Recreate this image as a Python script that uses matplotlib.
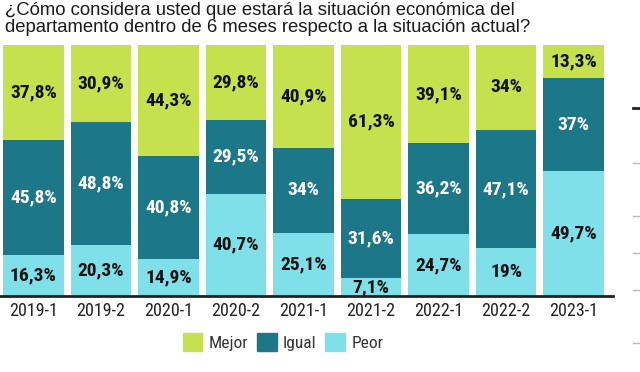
import numpy as np
import matplotlib
matplotlib.use("Agg")
import matplotlib.pyplot as plt
from matplotlib.patches import Patch

# data
periods = ["2019-1", "2019-2", "2020-1", "2020-2", "2021-1",
           "2021-2", "2022-1", "2022-2", "2023-1"]
peor = [16.3, 20.3, 14.9, 40.7, 25.1, 7.1, 24.7, 19, 49.7]
igual = [45.8, 48.8, 40.8, 29.5, 34, 31.6, 36.2, 47.1, 37]
mejor = [37.8, 30.9, 44.3, 29.8, 40.9, 61.3, 39.1, 34, 13.3]

series = [("Peor", peor, "#7fe0ea", "#111111"),
          ("Igual", igual, "#1c7888", "white"),
          ("Mejor", mejor, "#c6e04e", "#111111")]

narrow = "Roboto Condensed"

fig = plt.figure(figsize=(6.4, 3.72), dpi=100)
ax = fig.add_axes([0.0, 0.2043, 0.958, 0.675])

x = np.arange(len(periods))
bottom = np.zeros(len(periods))
for name, vals, color, txt in series:
    vals = np.array(vals, dtype=float)
    bars = ax.bar(x, vals, width=0.9, bottom=bottom, color=color, label=name)
    labels = [f"{v:g}".replace(".", ",") + "%" for v in vals]
    ax.bar_label(bars, labels=labels, label_type="center", color=txt,
                 fontsize=14, fontweight=900, family=narrow)
    bottom += vals

ax.set_xlim(-0.494, 8.585)
ax.set_ylim(0, 100)
ax.set_yticks([])
ax.set_xticks(x)
ax.set_xticklabels(periods, family=narrow, fontsize=13, color="#222222")
ax.tick_params(axis="x", length=0, pad=4)
for s in ["top", "right", "left"]:
    ax.spines[s].set_visible(False)
ax.spines["bottom"].set_linewidth(2)
ax.spines["bottom"].set_color("#222222")

# title
fig.text(0.008, 0.995, "¿Cómo considera usted que estará la situación económica del\n"
         "departamento dentro de 6 meses respecto a la situación actual?",
         ha="left", va="top", fontsize=13.3, family="Liberation Sans",
         color="#1a1a1a", linespacing=1.0)

# legend
handles = [Patch(color=c, label=n) for n, _, c, _ in series[::-1]]
leg = fig.legend(handles=handles, loc="center", bbox_to_anchor=(0.442, 0.08),
                 ncol=3, frameon=False, handlelength=1.15, handleheight=1.2,
                 handletextpad=0.35, columnspacing=0.5,
                 prop={"family": narrow, "size": 12.5})
for t in leg.get_texts():
    t.set_color("#333333")

# cropped axis marks of a neighbouring chart at the right edge
for yy, lw, col in [(108, 2, "#222222"), (163, 1, "#bbbbbb"), (216, 1, "#bbbbbb"),
                    (253, 1, "#bbbbbb"), (290, 1, "#bbbbbb"), (343, 1, "#bbbbbb")]:
    fig.add_artist(plt.Line2D([633 / 640, 640 / 640], [1 - yy / 372] * 2,
                              color=col, lw=lw))

fig.savefig("out.png", dpi=100)
